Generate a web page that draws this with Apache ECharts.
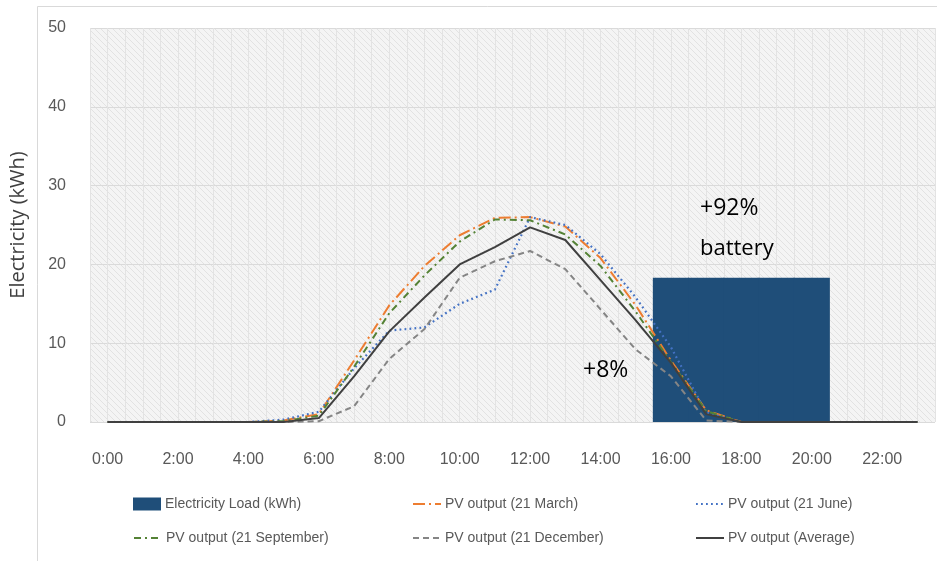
<!DOCTYPE html>
<html>
<head>
<meta charset="utf-8">
<script src="https://cdn.jsdelivr.net/npm/echarts@6/dist/echarts.min.js"></script>
<style>
  html, body { margin: 0; padding: 0; background: #ffffff; }
  #chart { width: 937px; height: 561px; }
</style>
</head>
<body>
<div id="chart"></div>
<script>
// Hourly categories (0:00 .. 23:00)
const hours = ['0:00','1:00','2:00','3:00','4:00','5:00','6:00','7:00','8:00','9:00','10:00','11:00',
               '12:00','13:00','14:00','15:00','16:00','17:00','18:00','19:00','20:00','21:00','22:00','23:00'];

// Electricity load (kWh), evening block 16:00-20:00
const loadKWh = [null,null,null,null,null,null,null,null,null,null,null,null,
                 null,null,null,null,18.3,18.3,18.3,18.3,18.3,null,null,null];

// PV output per hour (kWh)
const pvMarch     = [0,0,0,0,0,0.2,1.0,7.8,14.8,19.8,23.7,25.9,26.0,24.8,20.8,14.8,7.8,1.5,0,0,0,0,0,0];
const pvJune      = [0,0,0,0,0,0.3,1.3,6.8,11.6,12.0,15.0,16.8,26.0,25.0,21.3,15.8,9.5,1.2,0,0,0,0,0,0];
const pvSeptember = [0,0,0,0,0,0.1,0.8,7.0,13.8,18.6,22.9,25.7,25.6,23.8,19.8,14.0,7.6,1.4,0,0,0,0,0,0];
const pvDecember  = [0,0,0,0,0,0,0.1,2.0,8.0,11.8,18.3,20.4,21.7,19.4,14.3,9.2,5.8,0.2,0,0,0,0,0,0];
const pvAverage   = [0,0,0,0,0,0,0.5,5.8,11.5,15.8,20.0,22.2,24.7,23.1,18.0,12.9,7.5,1.0,0,0,0,0,0,0];

// Y axis range / step
const yMin = 0, yMax = 50, yStep = 10;

// Hatched plot background
function hatchPattern() {
  const c = document.createElement('canvas');
  c.width = 6; c.height = 6;
  const g = c.getContext('2d');
  g.fillStyle = '#f4f4f4';
  g.fillRect(0, 0, 6, 6);
  g.strokeStyle = '#e2e2e2';
  g.lineWidth = 1;
  g.beginPath();
  g.moveTo(-1, -1); g.lineTo(7, 7);
  g.moveTo(-1, 5); g.lineTo(1, 7);
  g.moveTo(5, -1); g.lineTo(7, 1);
  g.stroke();
  return { image: c, repeat: 'repeat' };
}

const chart = echarts.init(document.getElementById('chart'), null, { renderer: 'canvas' });

const legendFont = { color: '#595959', fontSize: 14, fontFamily: 'Liberation Sans, sans-serif', padding: [0, 0, 0, -1] };
function legendAt(name, left, top, isBlock) {
  const l = {
    data: [name], left: left, top: top, orient: 'horizontal',
    itemWidth: 28, itemHeight: 13, itemGap: 0, padding: 0,
    textStyle: legendFont, selectedMode: false
  };
  if (isBlock) {
    l.icon = 'rect';
  } else {
    // line-only key: hide the centre marker, keep the stroke
    l.itemStyle = { opacity: 0 };
  }
  return l;
}

function lineSeries(name, data, color, type, width) {
  return {
    name: name, type: 'line', data: data, xAxisIndex: 0, yAxisIndex: 0,
    symbol: 'none', smooth: false,
    lineStyle: { color: color, width: width || 2, type: type },
    itemStyle: { color: color },
    emphasis: { disabled: true }, animation: false
  };
}

// Load block as one seamless column per hour slot
const loadPoints = [];
loadKWh.forEach(function (v, i) { if (v != null) loadPoints.push([i, v]); });

const option = {
  backgroundColor: '#ffffff',
  animation: false,
  grid: {
    left: 88, right: 2, top: 28, bottom: 139,
    show: true, backgroundColor: hatchPattern(), borderWidth: 0
  },
  xAxis: [
    {
      type: 'category', data: hours, boundaryGap: true,
      axisLine: { show: false }, axisTick: { show: false },
      axisLabel: { interval: 1, color: '#595959', fontSize: 16, margin: 30, fontFamily: 'Liberation Sans, sans-serif' },
      splitLine: { show: false }
    },
    {
      // half-hour vertical guides
      type: 'value', min: 0, max: 24, interval: 0.5, position: 'bottom',
      axisLine: { show: false }, axisTick: { show: false }, axisLabel: { show: false },
      splitLine: { show: true, lineStyle: { color: '#e3e3e3', width: 1 } }
    }
  ],
  yAxis: {
    type: 'value', min: yMin, max: yMax, interval: yStep,
    name: 'Electricity (kWh)', nameLocation: 'middle', nameGap: 62, nameRotate: 90,
    nameTextStyle: { color: '#404040', fontSize: 20, fontFamily: 'Open Sans, Liberation Sans, sans-serif' },
    axisLine: { show: false }, axisTick: { show: false },
    axisLabel: { color: '#595959', fontSize: 16, margin: 24, fontFamily: 'Liberation Sans, sans-serif' },
    splitLine: { show: true, lineStyle: { color: '#dadada', width: 1 } }
  },
  legend: [
    legendAt('Electricity Load (kWh)', 133, 497, true),
    legendAt('PV output (21 March)', 412, 497, false),
    legendAt('PV output (21 June)', 695, 497, false),
    legendAt('PV output (21 September)', 133, 531, false),
    legendAt('PV output (21 December)', 412, 531, false),
    legendAt('PV output (Average)', 695, 531, false)
  ],
  series: [
    {
      name: 'Electricity Load (kWh)', type: 'custom', data: loadPoints,
      xAxisIndex: 0, yAxisIndex: 0, encode: { x: 0, y: 1 },
      itemStyle: { color: '#1F4E79' },
      renderItem: function (params, api) {
        const top = api.coord([api.value(0), api.value(1)]);
        const base = api.coord([api.value(0), 0]);
        const w = api.size([1, 0])[0];
        return {
          type: 'rect',
          shape: { x: top[0] - w / 2 - 0.5, y: top[1], width: w + 1, height: base[1] - top[1] },
          style: { fill: '#1F4E79' }
        };
      }
    },
    lineSeries('PV output (21 March)', pvMarch, '#ED7D31', [12, 4, 2, 4]),
    lineSeries('PV output (21 June)', pvJune, '#4472C4', [1.8, 3.2], 2.2),
    lineSeries('PV output (21 September)', pvSeptember, '#548235', [7, 4, 2, 4]),
    lineSeries('PV output (21 December)', pvDecember, '#858585', [6, 4]),
    lineSeries('PV output (Average)', pvAverage, '#404040', 'solid')
  ],
  graphic: [
    {
      type: 'rect', silent: true, z: -10,
      shape: { x: 37.5, y: 6.5, width: 960, height: 600 },
      style: { fill: null, stroke: '#d9d9d9', lineWidth: 1 }
    },
    {
      type: 'text', left: 700, top: 197, z: 100,
      style: { text: '+92%', fill: '#000000', font: '23px "Open Sans", sans-serif' }
    },
    {
      type: 'text', left: 700, top: 238, z: 100,
      style: { text: 'battery', fill: '#000000', font: '22px "Open Sans", sans-serif' }
    },
    {
      type: 'text', left: 583, top: 359, z: 100,
      style: { text: '+8%', fill: '#000000', font: '23px "Open Sans", sans-serif' }
    }
  ]
};

chart.setOption(option);
</script>
</body>
</html>
